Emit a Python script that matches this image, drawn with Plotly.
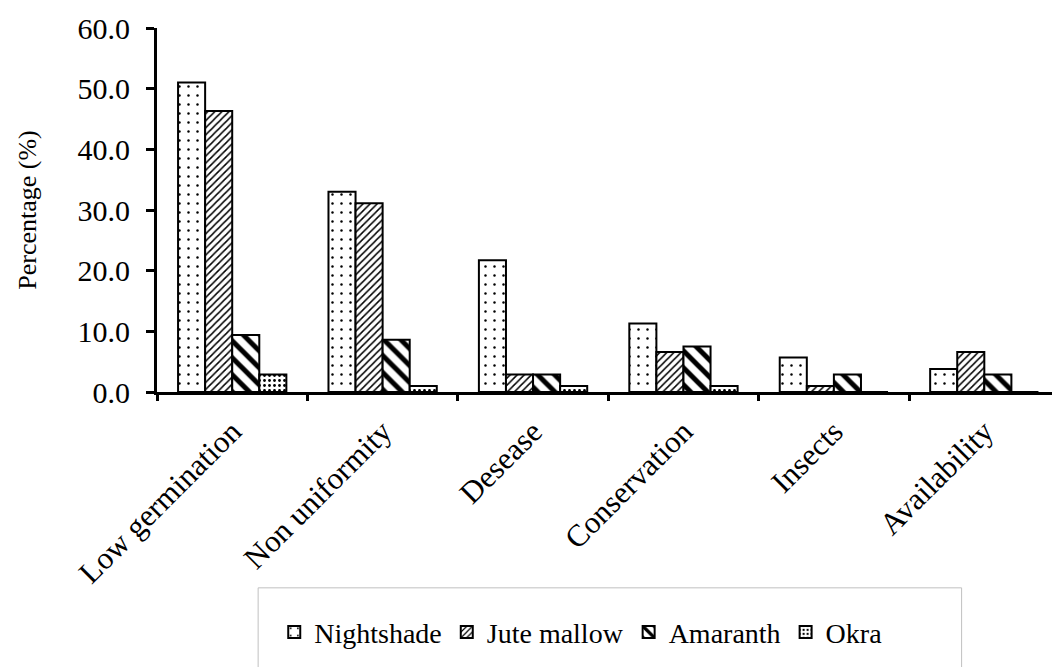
import plotly.graph_objects as go

categories = ["Low germination", "Non uniformity", "Desease", "Conservation", "Insects", "Availability"]
nightshade = [51.0, 33.0, 21.7, 11.3, 5.7, 3.8]
jute_mallow = [46.3, 31.1, 2.9, 6.6, 1.0, 6.6]
amaranth = [9.4, 8.6, 2.9, 7.5, 2.9, 2.9]
okra = [2.9, 1.0, 1.0, 1.0, 0.0, 0.0]

series = [
    ("Nightshade", nightshade, dict(shape=".", size=9, solidity=0.06)),
    ("Jute mallow", jute_mallow, dict(shape="/", size=5, solidity=0.3)),
    ("Amaranth", amaranth, dict(shape="\\", size=12, solidity=0.42)),
    ("Okra", okra, dict(shape=".", size=5, solidity=0.25)),
]

FONT = "Liberation Serif"

fig = go.Figure()
for name, vals, pat in series:
    fig.add_trace(go.Bar(
        name=name, x=categories, y=vals,
        marker=dict(color="white",
                    line=dict(color="black", width=2),
                    pattern=dict(fgcolor="black", bgcolor="white", fillmode="replace", **pat)),
    ))

fig.update_layout(
    width=1052, height=667,
    margin=dict(l=157, r=0, t=28, b=275),
    paper_bgcolor="white", plot_bgcolor="white",
    barmode="group", bargap=0.28, bargroupgap=0,
    font=dict(family=FONT, color="black", size=28),
    showlegend=True,
    legend=dict(orientation="h", x=0.131, xanchor="left", y=-0.66, yanchor="middle",
                font=dict(family=FONT, size=28, color="black"),
                bgcolor="rgba(0,0,0,0)", itemwidth=30, traceorder="normal"),
    shapes=[dict(type="rect", xref="paper", yref="paper",
                 x0=0.113, x1=0.899, y0=-0.538, y1=-0.95,
                 line=dict(color="#c0c0c0", width=1), fillcolor="rgba(0,0,0,0)")],
)

fig.update_xaxes(
    type="category", range=[-0.5, 5.45],
    showline=True, linecolor="black", linewidth=3,
    ticks="outside", tickson="boundaries", ticklen=6, tickwidth=3, tickcolor="black",
    tickangle=-45, tickfont=dict(family=FONT, size=31, color="black"),
    ticklabelstandoff=6,
    showgrid=False, zeroline=False,
)
fig.update_yaxes(
    range=[0, 60], dtick=10, tickformat=".1f",
    showline=True, linecolor="black", linewidth=3,
    ticks="outside", ticklen=8, tickwidth=3, tickcolor="black",
    tickfont=dict(family=FONT, size=30, color="black"),
    ticklabelstandoff=10,
    title=dict(text="Percentage (%)", font=dict(family=FONT, size=26, color="black"), standoff=34),
    showgrid=False, zeroline=False,
)

fig.write_html("out.html", config={"displayModeBar": False},
               post_script="document.body.style.margin='0';document.body.style.overflow='hidden';")
